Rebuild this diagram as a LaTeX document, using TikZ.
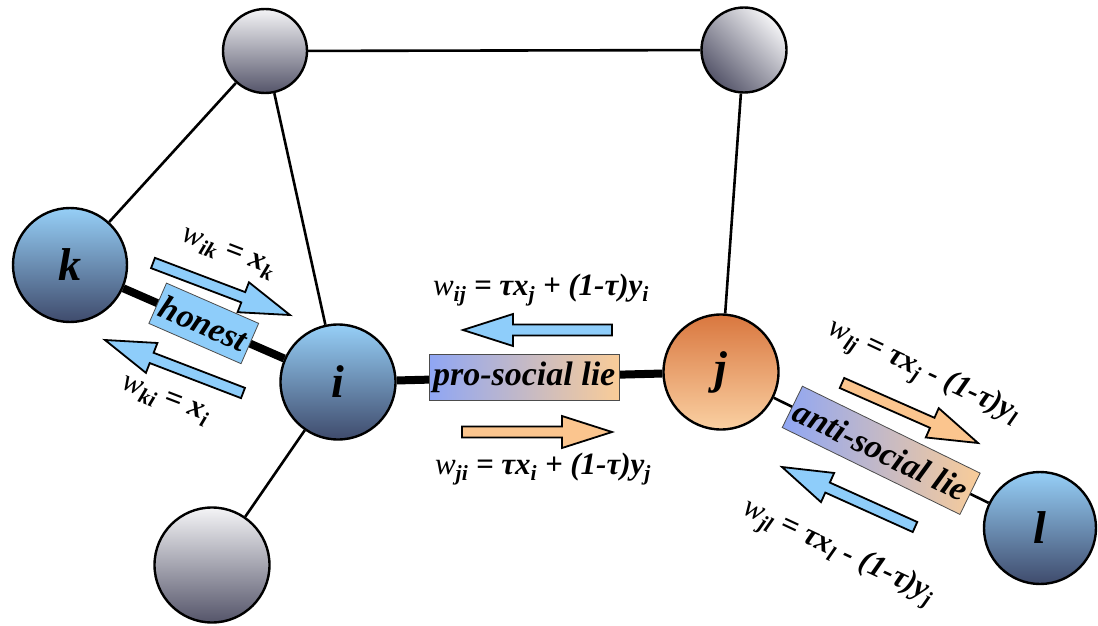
\documentclass[tikz,border=0pt]{standalone}
\usepackage{fontspec}
\setmainfont{Liberation Serif}
\usetikzlibrary{calc}
\definecolor{NodeBlueTop}{HTML}{96CFF7}
\definecolor{NodeBlueBot}{HTML}{3F4B6C}
\definecolor{NodeOrangeTop}{HTML}{D9773F}
\definecolor{NodeOrangeBot}{HTML}{FAD0A2}
\definecolor{NodeGrayTop}{HTML}{F4F4F6}
\definecolor{NodeGrayBot}{HTML}{55556A}
\definecolor{HonestBlue}{HTML}{8ECDFA}
\definecolor{LieBlue}{HTML}{8FA6F4}
\definecolor{LiePeach}{HTML}{F9CC98}
\definecolor{ArrowBlue}{HTML}{8ECDFA}
\definecolor{ArrowOrange}{HTML}{FBC58E}
\tikzset{
    % Base circle style
    basecircle/.style={
        circle,
        draw=black,
        line width=2.4pt,
        inner sep=0pt,
        font=\fontsize{46}{50}\selectfont\bfseries\itshape
    },
    % Agent node styles
    bluenode/.style={
        basecircle,
        minimum size=114pt,
        top color=NodeBlueTop,
        bottom color=NodeBlueBot
    },
    orangenode/.style={
        basecircle,
        minimum size=115pt,
        top color=NodeOrangeTop,
        bottom color=NodeOrangeBot
    },
    graynode/.style={
        basecircle,
        top color=NodeGrayTop,
        bottom color=NodeGrayBot
    },
    % Edge styles
    thinedge/.style={
        line width=2.6pt,
        draw=black
    },
    thickedge/.style={
        line width=8pt,
        draw=black
    },
    % Edge label boxes
    labelbox/.style={
        draw=black!70,
        line width=0.8pt,
        inner xsep=4pt,
        inner ysep=0pt,
        minimum height=46pt,
        font=\fontsize{34}{36}\selectfont\bfseries\itshape
    },
    honestbox/.style={
        labelbox,
        minimum height=44pt,
        fill=HonestBlue
    },
    liebox/.style={
        labelbox,
        left color=LieBlue,
        right color=LiePeach
    },
    % Formula labels
    formula/.style={
        inner sep=0pt,
        font=\fontsize{31}{34}\selectfont\bfseries\itshape
    },
    % Block arrows
    bluearrow/.style={
        draw=black,
        line width=1.8pt,
        fill=ArrowBlue
    },
    orangearrow/.style={
        draw=black,
        line width=1.8pt,
        fill=ArrowOrange
    }
}
\newcommand{\wsub}[1]{{\mdseries w}\textsubscript{#1}}
% block arrow: style, tail, tip
\newcommand{\blockarrow}[3]{%
    \coordinate (hb) at ($(#3)!50pt!(#2)$);
    \draw[#1] ($(#2)!5.5pt!90:(#3)$) -- ($(hb)!5.5pt!-90:(#2)$)
        -- ($(hb)!16pt!-90:(#2)$) -- (#3) -- ($(hb)!16pt!90:(#2)$)
        -- ($(hb)!5.5pt!90:(#2)$) -- ($(#2)!5.5pt!-90:(#3)$) -- cycle;
}

\begin{document}
\begin{tikzpicture}[x=1pt, y=-1pt]
    \useasboundingbox (0,0) rectangle (1098,626);

    % agents
    \node[graynode, minimum size=84pt] (tl) at (265,51) {};
    \node[graynode, minimum size=85pt, shading angle=-45] (tr) at (744,50) {};
    \node[graynode, minimum size=115pt] (bt) at (212,565) {};
    \node[bluenode] (k) at (70,265) {k};
    \node[bluenode, minimum size=115pt] (i) at (338,382) {i};
    \node[orangenode] (j) at (721,372) {j};
    \node[bluenode, minimum size=112pt] (l) at (1040,528) {l};

    % network links
    \draw[thinedge] (tl) -- (tr);
    \draw[thinedge] (tl) -- (k);
    \draw[thinedge] (tl) -- (i);
    \draw[thinedge] (tr) -- (j);
    \draw[thinedge] (i) -- (bt);
    \draw[thickedge] (k) -- node[honestbox, sloped] (hon) {honest} (i);
    \draw[thickedge] (i) -- node[liebox, pos=0.48] (pro) {pro-social lie} (j);
    \draw[thinedge] (j) -- node[liebox, sloped] (anti) {anti-social lie} (l);

    % flow arrows
    \coordinate (ik1) at (153,263);
    \coordinate (ik2) at (290,315);
    \coordinate (ki1) at (243,393);
    \coordinate (ki2) at (105,340);
    \coordinate (ij1) at (612,330);
    \coordinate (ij2) at (463,330);
    \coordinate (ji1) at (462,432);
    \coordinate (ji2) at (612,432);
    \coordinate (lj1) at (842,383);
    \coordinate (lj2) at (978,443);
    \coordinate (jl1) at (915,527);
    \coordinate (jl2) at (782,467);
    \blockarrow{bluearrow}{ik1}{ik2}
    \blockarrow{bluearrow}{ki1}{ki2}
    \blockarrow{bluearrow}{ij1}{ij2}
    \blockarrow{orangearrow}{ji1}{ji2}
    \blockarrow{orangearrow}{lj1}{lj2}
    \blockarrow{bluearrow}{jl1}{jl2}

    % weights
    \node[formula, rotate=-21] (wik) at (228,254) {\wsub{ik} = x\textsubscript{k}};
    \node[formula, rotate=-21] (wki) at (165,401) {\wsub{ki} = x\textsubscript{i}};
    \node[formula] (wij) at (541,290) {\wsub{ij} = τx\textsubscript{j} + (1-τ)y\textsubscript{i}};
    \node[formula] (wji) at (543,469) {\wsub{ji} = τx\textsubscript{i} + (1-τ)y\textsubscript{j}};
    \node[formula, rotate=-25] (wlj) at (923,373) {\wsub{lj} = τx\textsubscript{j} - (1-τ)y\textsubscript{l}};
    \node[formula, rotate=-25] (wjl) at (838,553) {\wsub{jl} = τx\textsubscript{l} - (1-τ)y\textsubscript{j}};
\end{tikzpicture}
\end{document}
